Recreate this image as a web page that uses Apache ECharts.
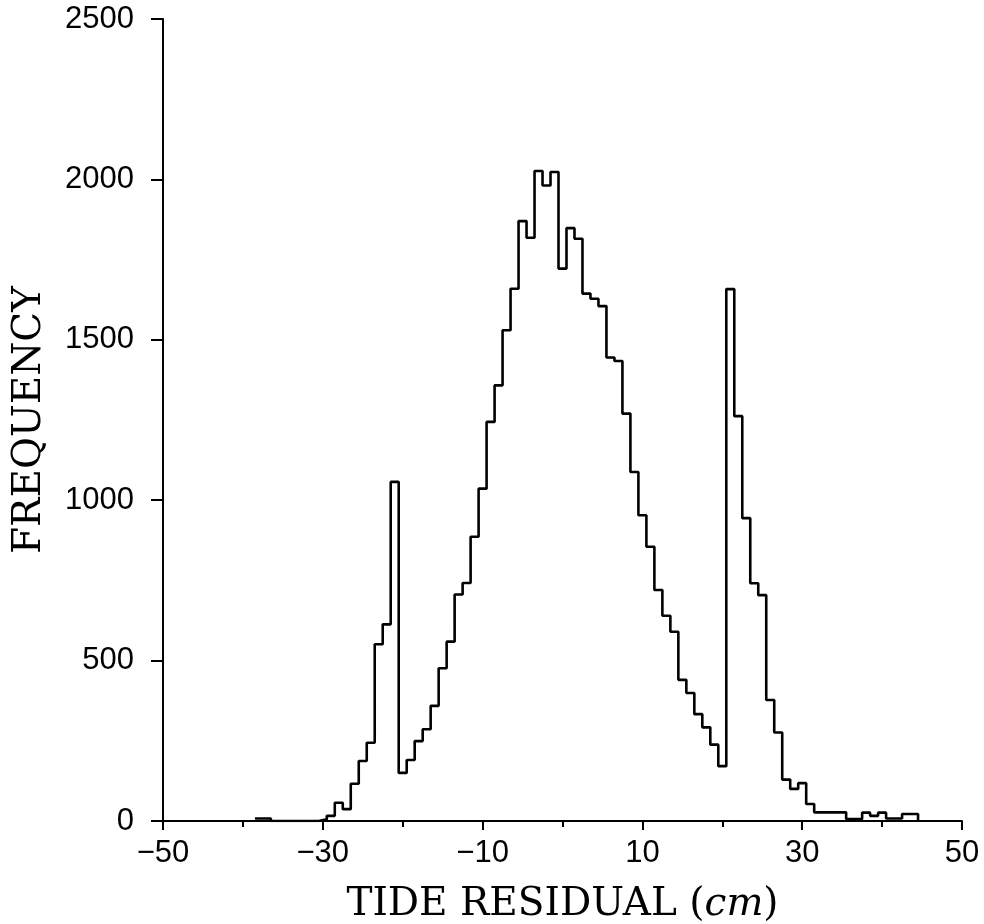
<!DOCTYPE html>
<html>
<head>
<meta charset="utf-8">
<title>Tide residual histogram</title>
<script src="https://cdn.jsdelivr.net/npm/echarts@6/dist/echarts.min.js"></script>
<style>
  html, body { margin: 0; padding: 0; background: #fff; }
  #chart { width: 984px; height: 924px; }
</style>
</head>
<body>
<div id="chart"></div>
<script>
// bin centres (cm), one bin per centimetre
const binCenters = [
  -38, -37, -36, -35, -34, -33, -32, -31, -30, -29, -28, -27, -26, -25, -24, -23, -22, -21,
  -20, -19, -18, -17, -16, -15, -14, -13, -12, -11, -10, -9, -8, -7, -6, -5, -4, -3, -2, -1,
  0, 1, 2, 3, 4, 5, 6, 7, 8, 9, 10, 11, 12, 13, 14, 15, 16, 17, 18, 19, 20,
  21, 22, 23, 24, 25, 26, 27, 28, 29, 30, 31, 32, 33, 34, 35, 36, 37, 38, 39, 40, 41, 42, 43, 44
];
// frequency per bin
const counts = [
  8, 8, 0, 0, 0, 0, 0, 0, 5, 16, 57, 37, 116, 187, 244, 551, 613, 1057,
  150, 190, 249, 286, 359, 476, 559, 706, 742, 886, 1036, 1244, 1358, 1530, 1659, 1870, 1818, 2026, 1981, 2023,
  1722, 1848, 1815, 1644, 1628, 1605, 1445, 1434, 1270, 1088, 953, 855, 720, 640, 590, 440, 399, 333, 292, 238, 171,
  1658, 1262, 944, 741, 704, 377, 276, 129, 100, 118, 53, 27, 27, 27, 27, 6, 6, 26, 16, 26, 8, 8, 22, 22
];
const binWidth = 1;
const xTicks = [-50, -30, -10, 10, 30, 50];
const yTicks = [0, 500, 1000, 1500, 2000, 2500];

// step outline: each point sits on a bin's left edge, last one closes at zero
const outline = binCenters.map((c, i) => [c - binWidth / 2, counts[i]]);
outline.push([binCenters[binCenters.length - 1] + binWidth / 2, 0]);

const minus = v => (v < 0 ? '\u2212' + Math.abs(v) : String(v));

const chart = echarts.init(document.getElementById('chart'));
chart.setOption({
  animation: false,
  backgroundColor: '#fff',
  grid: { left: 163, right: 22, top: 19, bottom: 103, outerBoundsMode: 'none' },
  xAxis: {
    type: 'value',
    min: xTicks[0],
    max: xTicks[xTicks.length - 1],
    interval: xTicks[1] - xTicks[0],
    name: 'TIDE RESIDUAL ({i|cm})',
    nameLocation: 'middle',
    nameGap: 64,
    nameTextStyle: {
      fontFamily: 'DejaVu Serif',
      fontSize: 39,
      color: '#000',
      rich: { i: { fontFamily: 'DejaVu Serif', fontStyle: 'italic', fontSize: 39, color: '#000' } }
    },
    axisLine: { onZero: false, lineStyle: { color: '#000', width: 2 } },
    axisTick: { inside: false, length: 9, lineStyle: { color: '#000', width: 2 } },
    minorTick: { show: true, splitNumber: 2, length: 6, lineStyle: { color: '#000', width: 2 } },
    axisLabel: {
      margin: 17,
      fontFamily: 'Liberation Sans',
      fontSize: 31,
      color: '#000',
      formatter: minus
    },
    splitLine: { show: false }
  },
  yAxis: {
    type: 'value',
    min: yTicks[0],
    max: yTicks[yTicks.length - 1],
    interval: yTicks[1] - yTicks[0],
    name: 'FREQUENCY',
    nameLocation: 'middle',
    nameGap: 114,
    nameTextStyle: {
      fontFamily: 'DejaVu Serif',
      fontSize: 39,
      color: '#000'
    },
    axisLine: { show: true, onZero: false, lineStyle: { color: '#000', width: 2 } },
    axisTick: { show: true, inside: false, length: 12, lineStyle: { color: '#000', width: 2 } },
    axisLabel: {
      margin: 29,
      fontFamily: 'Liberation Sans',
      fontSize: 31,
      color: '#000',
      formatter: v => String(v)
    },
    splitLine: { show: false }
  },
  series: [{
    type: 'line',
    step: 'end',
    data: outline,
    showSymbol: false,
    lineStyle: { color: '#000', width: 2.6 },
    z: 3
  }]
});
</script>
</body>
</html>
